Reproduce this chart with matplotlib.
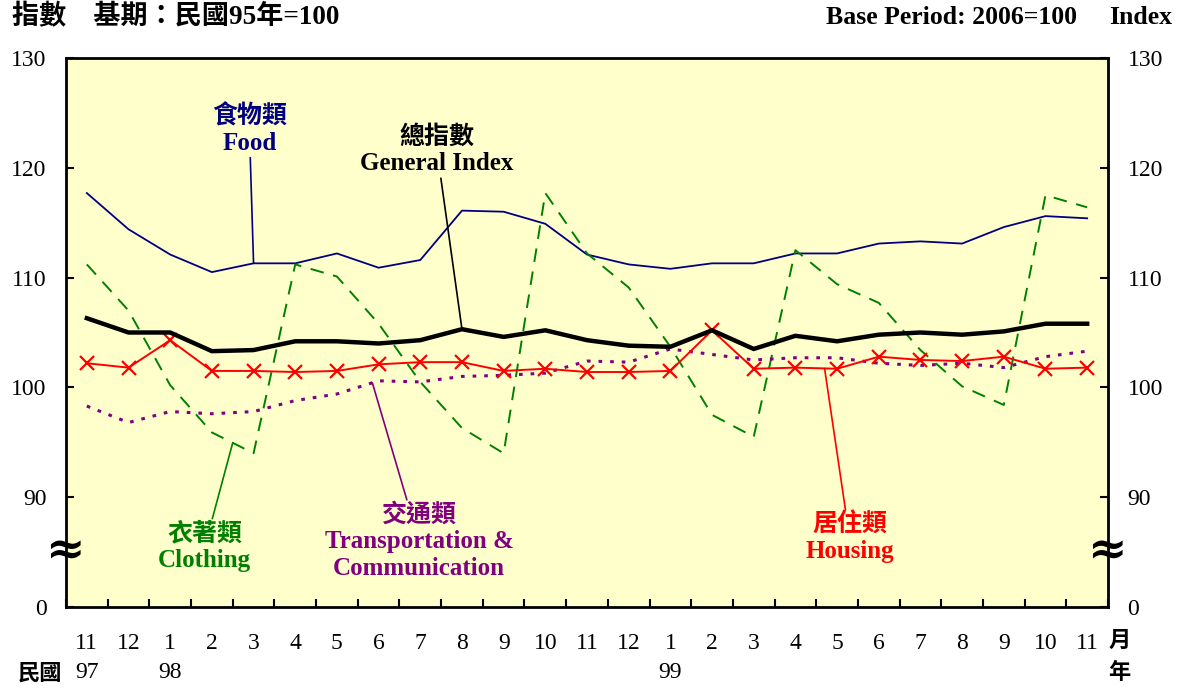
import matplotlib.pyplot as plt
import matplotlib.transforms as mtransforms
import numpy as np

# Monthly price indices, Nov 1997 (ROC 97) to Nov 1999 (ROC 99)
months = ['11', '12', '1', '2', '3', '4', '5', '6', '7', '8', '9', '10',
          '11', '12', '1', '2', '3', '4', '5', '6', '7', '8', '9', '10', '11']
years = {0: '97', 2: '98', 14: '99'}

general = [106.3, 105.0, 105.0, 103.3, 103.4, 104.2, 104.2, 104.0, 104.3, 105.3,
           104.6, 105.2, 104.3, 103.8, 103.7, 105.2, 103.5, 104.7, 104.2, 104.8,
           105.0, 104.8, 105.1, 105.8, 105.8]
food = [117.7, 114.4, 112.1, 110.5, 111.3, 111.3, 112.2, 110.9, 111.6, 116.1,
        116.0, 114.9, 112.1, 111.2, 110.8, 111.3, 111.3, 112.2, 112.2, 113.1,
        113.3, 113.1, 114.6, 115.6, 115.4]
clothing = [111.2, 107.0, 100.2, 95.9, 94.0, 111.2, 110.1, 105.8, 100.5, 96.3,
            94.0, 117.7, 112.2, 109.1, 103.7, 97.5, 95.5, 112.5, 109.4, 107.7,
            103.4, 100.1, 98.4, 117.5, 116.4]
housing = [102.2, 101.8, 104.3, 101.5, 101.5, 101.4, 101.5, 102.1, 102.3, 102.3,
           101.5, 101.7, 101.4, 101.4, 101.5, 105.2, 101.7, 101.8, 101.7, 102.8,
           102.5, 102.4, 102.8, 101.7, 101.8]
transport = [98.3, 96.8, 97.8, 97.6, 97.8, 98.8, 99.4, 100.6, 100.5, 101.0,
             101.1, 101.3, 102.4, 102.3, 103.5, 103.0, 102.5, 102.7, 102.7, 102.2,
             102.0, 102.2, 101.8, 102.8, 103.3]

y_ticks = [80, 90, 100, 110, 120, 130]
y_labels = ['0', '90', '100', '110', '120', '130']

serif = ['Liberation Serif', 'Noto Sans CJK TC']
cjk = ['Noto Sans CJK TC', 'Liberation Serif']

fig = plt.figure(figsize=(11.82, 6.89), dpi=100)
ax = fig.add_axes([66 / 1182, 82 / 689, 1042 / 1182, 549 / 689])
ax.set_facecolor('#FFFFCC')

x = np.arange(len(months))
ax.plot(x, food, color='#000080', lw=1.3)
ax.plot(x, clothing, color='#008000', lw=1.4, dashes=(7, 5))
ax.plot(x, transport, color='#800080', lw=2.2, linestyle=(0, (1.2, 2.6)))
ax.plot(x, housing, color='#FF0000', lw=1.4, marker='x', ms=10, mew=1.6)
ax.plot(x, general, color='black', lw=3.2)

ax.set_xlim(-0.5, len(months) - 0.5)
ax.set_ylim(80, 130)

for s in ax.spines.values():
    s.set_linewidth(2)

ax.set_yticks(y_ticks, y_labels, fontfamily='Liberation Serif', fontsize=17)
ax.tick_params(axis='y', direction='in', length=6, width=1.5, left=True, right=True,
               labelleft=True, labelright=True, pad=14)

ax.set_xticks(x, months, fontfamily='Liberation Serif', fontsize=17)
ax.tick_params(axis='x', which='major', length=0, pad=19)
ax.set_xticks(np.arange(-0.5, len(months)), minor=True)
ax.tick_params(axis='x', which='minor', direction='in', length=6, width=1.5)

trans = mtransforms.blended_transform_factory(ax.transData, ax.transAxes)
for i, yr in years.items():
    ax.text(i, -0.12, yr, transform=trans, ha='center', va='center',
            fontsize=17, family='Liberation Serif')
ax.text(-26 / 1042, -0.12, '民國', transform=ax.transAxes, ha='center', va='center',
        fontsize=16, family=cjk, fontweight='bold')
ax.text(1.011, -0.06, '月', transform=ax.transAxes, ha='center', va='center',
        fontsize=16, family=cjk, fontweight='bold')
ax.text(1.011, -0.12, '年', transform=ax.transAxes, ha='center', va='center',
        fontsize=16, family=cjk, fontweight='bold')

# axis break marks
for xa in (0, 1):
    ax.text(xa, 85.1, '≈', transform=mtransforms.blended_transform_factory(ax.transAxes, ax.transData),
            ha='center', va='center', fontsize=34, fontweight='bold',
            family='DejaVu Serif', clip_on=False)

# series annotations
def label(text, xy, xytext, color):
    ax.annotate(text, xy=xy, xytext=xytext, ha='center', va='center', color=color,
                fontsize=18, fontweight='bold', family=serif, linespacing=1.2,
                arrowprops=dict(arrowstyle='-', color=color, lw=1.2,
                                shrinkA=0, shrinkB=0))

label('食物類\nFood', (4, food[4]), (3.9, 123.5), '#000080')
label('總指數\nGeneral Index', (9, general[9]), (8.4, 121.6), 'black')
label('衣著類\nClothing', (3.5, np.interp(3.5, x, clothing)), (2.83, 85.5), '#008000')
label('交通類\nTransportation &\nCommunication', (6.85, np.interp(6.85, x, transport)),
      (7.97, 86.0), '#800080')
label('居住類\nHousing', (17.7, np.interp(17.7, x, housing)), (18.3, 86.3), '#FF0000')

fig.text(12 / 1182, 1 - 17 / 689, '指數　基期：民國95年=100', ha='left', va='center',
         fontsize=19.5, fontweight='bold', family=serif)
fig.text(1077 / 1182, 1 - 17 / 689, 'Base Period: 2006=100', ha='right',
         va='center', fontsize=18.5, fontweight='bold', family=serif)
fig.text(1172 / 1182, 1 - 17 / 689, 'Index', ha='right',
         va='center', fontsize=18.5, fontweight='bold', family=serif)

fig.savefig('out.png', dpi=100)
